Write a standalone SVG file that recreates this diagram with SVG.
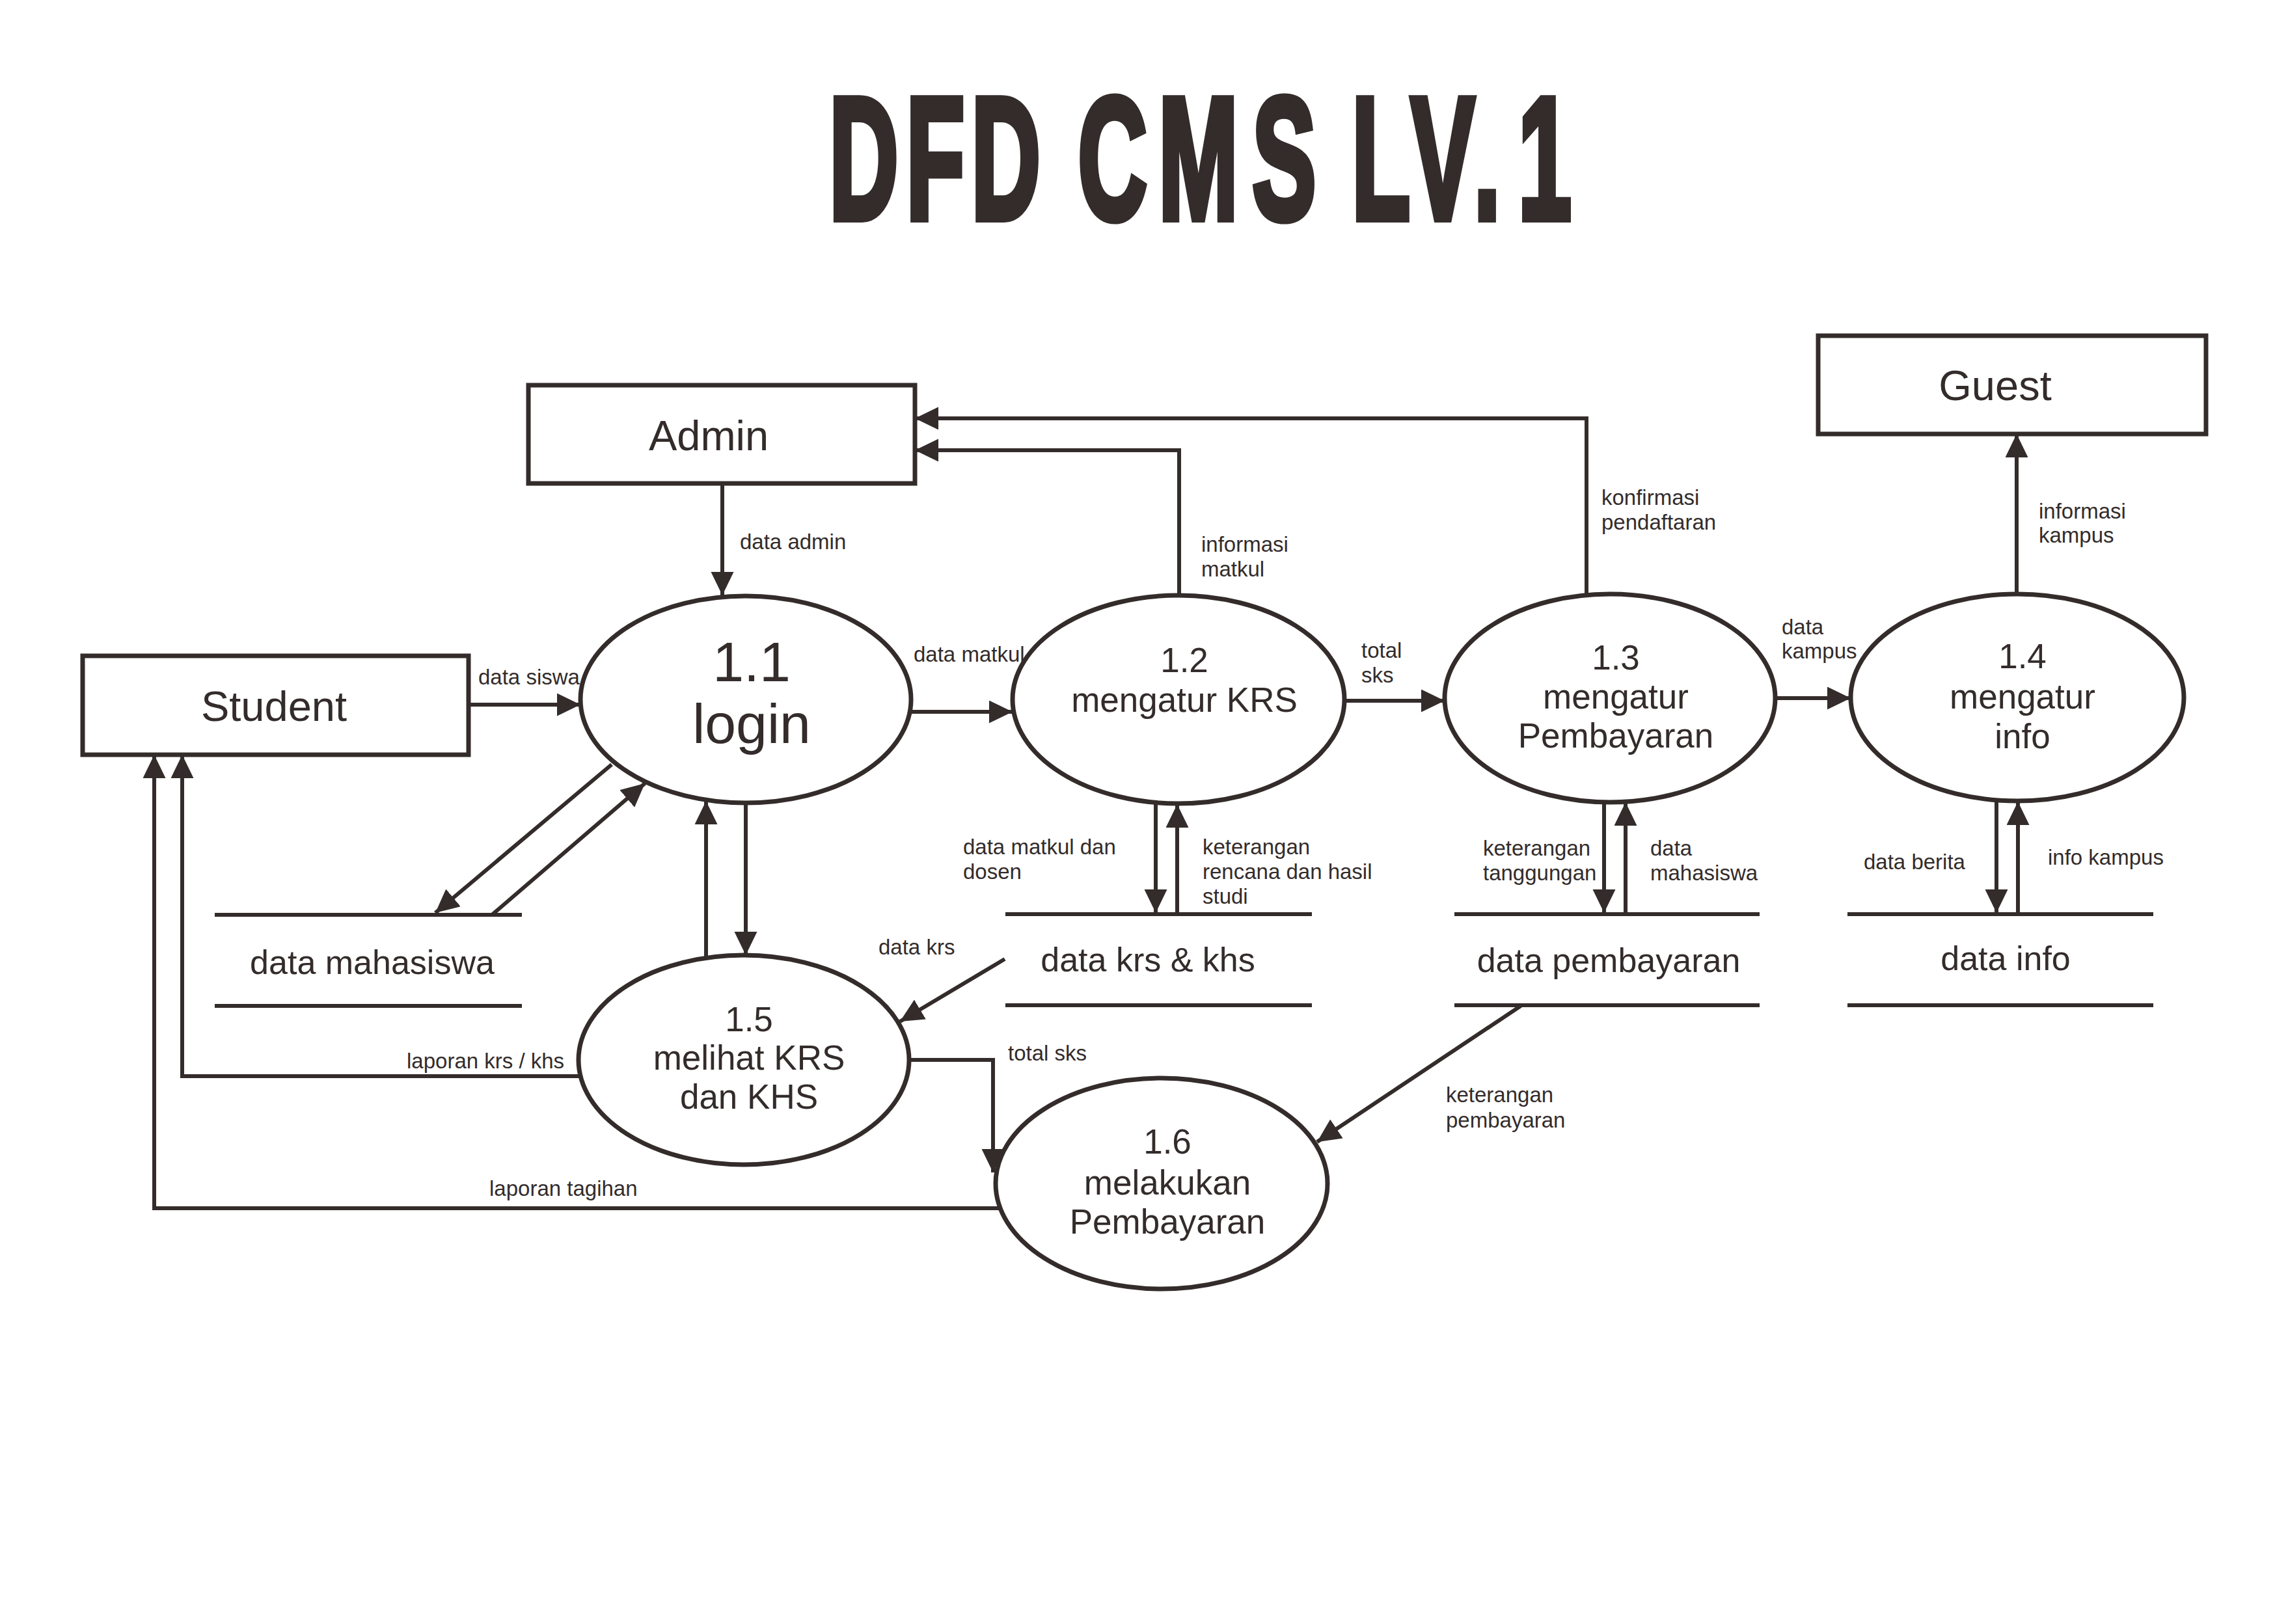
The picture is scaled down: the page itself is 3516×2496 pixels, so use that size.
<svg xmlns="http://www.w3.org/2000/svg" width="3516" height="2496" viewBox="0 0 3516 2496">
<style>
  text { font-family: "Liberation Sans", Arial, sans-serif; fill: #332c2b; }
  .ent { fill: #ffffff; stroke: #332c2b; stroke-width: 7; }
  .proc { fill: #ffffff; stroke: #332c2b; stroke-width: 7; }
  .store { stroke: #332c2b; stroke-width: 6; fill: none; }
  .flow { stroke: #332c2b; stroke-width: 6; fill: none; marker-end: url(#arr); }
  .lbl { font-size: 33px; }
  .big { font-size: 65px; text-anchor: middle; }
  .pt { font-size: 53px; text-anchor: middle; }
  .st { font-size: 52px; text-anchor: middle; }
  .title { font-size: 267px; font-weight: bold; stroke: #332c2b; stroke-width: 12; stroke-linejoin: miter; }
</style>
<defs>
  <marker id="arr" markerUnits="userSpaceOnUse" markerWidth="36" markerHeight="36" refX="36" refY="17.5" orient="auto">
    <path d="M0,0 L36,17.5 L0,35 Z" fill="#332c2b"/>
  </marker>
</defs>
<rect width="3516" height="2496" fill="#ffffff"/>

<text class="title" transform="scale(0.55,1)" x="2317 2532 2714 2950 3012 3237 3499 3700 3777 3942 4118 4242" y="336">DFD CMS LV.1</text>

<g id="connectors">
  <line class="flow" x1="1110" y1="743" x2="1110" y2="915"/>
  <line class="flow" x1="720" y1="1083" x2="892" y2="1083"/>
  <line class="flow" x1="1401" y1="1094" x2="1556" y2="1094"/>
  <polyline class="flow" points="1812,915 1812,692 1406,692"/>
  <polyline class="flow" points="2438,913 2438,643 1406,643"/>
  <line class="flow" x1="2066" y1="1077" x2="2220" y2="1077"/>
  <line class="flow" x1="2729" y1="1073" x2="2844" y2="1073"/>
  <line class="flow" x1="3099" y1="913" x2="3099" y2="667"/>
  <line class="flow" x1="3068" y1="1231" x2="3068" y2="1403"/>
  <line class="flow" x1="3101" y1="1404" x2="3101" y2="1232"/>
  <line class="flow" x1="1776" y1="1236" x2="1776" y2="1403"/>
  <line class="flow" x1="1809" y1="1404" x2="1809" y2="1236"/>
  <line class="flow" x1="2465" y1="1233" x2="2465" y2="1403"/>
  <line class="flow" x1="2498" y1="1404" x2="2498" y2="1233"/>
  <line class="flow" x1="2337" y1="1546" x2="2024" y2="1755"/>
  <line class="flow" x1="940" y1="1175" x2="669" y2="1403"/>
  <line class="flow" x1="756" y1="1406" x2="991" y2="1204"/>
  <line class="flow" x1="1085" y1="1471" x2="1085" y2="1231"/>
  <line class="flow" x1="1146" y1="1234" x2="1146" y2="1468"/>
  <line class="flow" x1="1544" y1="1474" x2="1383" y2="1570"/>
  <polyline class="flow" points="892,1654 280,1654 280,1160"/>
  <polyline class="flow" points="1537,1857 237,1857 237,1160"/>
  <polyline class="flow" points="1397,1629 1526,1629 1526,1802"/>

  <text class="lbl" x="1137" y="844">data admin</text>
  <text class="lbl" x="735" y="1052">data siswa</text>
  <text class="lbl" x="1404" y="1017">data matkul</text>
  <text class="lbl" x="1846" y="848">informasi</text>
  <text class="lbl" x="1846" y="886">matkul</text>
  <text class="lbl" x="2461" y="776">konfirmasi</text>
  <text class="lbl" x="2461" y="814">pendaftaran</text>
  <text class="lbl" x="2092" y="1011">total</text>
  <text class="lbl" x="2092" y="1049">sks</text>
  <text class="lbl" x="2738" y="975">data</text>
  <text class="lbl" x="2738" y="1012">kampus</text>
  <text class="lbl" x="3133" y="797">informasi</text>
  <text class="lbl" x="3133" y="834">kampus</text>
  <text class="lbl" x="2864" y="1336">data berita</text>
  <text class="lbl" x="3147" y="1329">info kampus</text>
  <text class="lbl" x="1480" y="1313">data matkul dan</text>
  <text class="lbl" x="1480" y="1351">dosen</text>
  <text class="lbl" x="1848" y="1313">keterangan</text>
  <text class="lbl" x="1848" y="1351">rencana dan hasil</text>
  <text class="lbl" x="1848" y="1389">studi</text>
  <text class="lbl" x="2279" y="1315">keterangan</text>
  <text class="lbl" x="2279" y="1353">tanggungan</text>
  <text class="lbl" x="2536" y="1315">data</text>
  <text class="lbl" x="2536" y="1353">mahasiswa</text>
  <text class="lbl" x="2222" y="1694">keterangan</text>
  <text class="lbl" x="2222" y="1733">pembayaran</text>
  <text class="lbl" x="1350" y="1467">data krs</text>
  <text class="lbl" x="625" y="1642">laporan krs / khs</text>
  <text class="lbl" x="752" y="1838">laporan tagihan</text>
  <text class="lbl" x="1549" y="1630">total sks</text>
</g>

<g id="admin">
  <rect class="ent" x="812" y="592" width="594" height="151"/>
  <text class="big" x="1089" y="692">Admin</text>
</g>
<g id="student">
  <rect class="ent" x="127" y="1008" width="593" height="152"/>
  <text class="big" x="421" y="1108">Student</text>
</g>
<g id="guest">
  <rect class="ent" x="2794" y="516" width="596" height="151"/>
  <text class="big" x="3066" y="615">Guest</text>
</g>

<g id="p1_1">
  <ellipse class="proc" cx="1146" cy="1075" rx="254" ry="159"/>
  <text x="1155" y="1047" font-size="86" text-anchor="middle">1.1</text>
  <text x="1155" y="1142" font-size="86" text-anchor="middle">login</text>
</g>
<g id="p1_2">
  <ellipse class="proc" cx="1811" cy="1075" rx="255" ry="160"/>
  <text class="pt" x="1820" y="1033">1.2</text>
  <text class="pt" x="1820" y="1094">mengatur KRS</text>
</g>
<g id="p1_3">
  <ellipse class="proc" cx="2474" cy="1073" rx="254" ry="160"/>
  <text class="pt" x="2483" y="1029">1.3</text>
  <text class="pt" x="2483" y="1089">mengatur</text>
  <text class="pt" x="2483" y="1149">Pembayaran</text>
</g>
<g id="p1_4">
  <ellipse class="proc" cx="3100" cy="1072" rx="256" ry="159"/>
  <text class="pt" x="3108" y="1027">1.4</text>
  <text class="pt" x="3108" y="1089">mengatur</text>
  <text class="pt" x="3108" y="1150">info</text>
</g>
<g id="p1_5">
  <ellipse class="proc" cx="1143" cy="1629" rx="254" ry="161"/>
  <text class="pt" x="1151" y="1585">1.5</text>
  <text class="pt" x="1151" y="1644">melihat KRS</text>
  <text class="pt" x="1151" y="1704">dan KHS</text>
</g>
<g id="p1_6">
  <ellipse class="proc" cx="1785" cy="1819" rx="255" ry="162"/>
  <text class="pt" x="1794" y="1773">1.6</text>
  <text class="pt" x="1794" y="1836">melakukan</text>
  <text class="pt" x="1794" y="1896">Pembayaran</text>
</g>

<g id="ds_mahasiswa">
  <line class="store" x1="330" y1="1406" x2="802" y2="1406"/>
  <line class="store" x1="330" y1="1546" x2="802" y2="1546"/>
  <text class="st" x="572" y="1497">data mahasiswa</text>
</g>
<g id="ds_krs">
  <line class="store" x1="1545" y1="1405" x2="2016" y2="1405"/>
  <line class="store" x1="1545" y1="1545" x2="2016" y2="1545"/>
  <text class="st" x="1764" y="1493">data krs &amp; khs</text>
</g>
<g id="ds_pembayaran">
  <line class="store" x1="2235" y1="1405" x2="2704" y2="1405"/>
  <line class="store" x1="2235" y1="1545" x2="2704" y2="1545"/>
  <text class="st" x="2472" y="1494">data pembayaran</text>
</g>
<g id="ds_info">
  <line class="store" x1="2839" y1="1405" x2="3309" y2="1405"/>
  <line class="store" x1="2839" y1="1545" x2="3309" y2="1545"/>
  <text class="st" x="3082" y="1491">data info</text>
</g>
</svg>
